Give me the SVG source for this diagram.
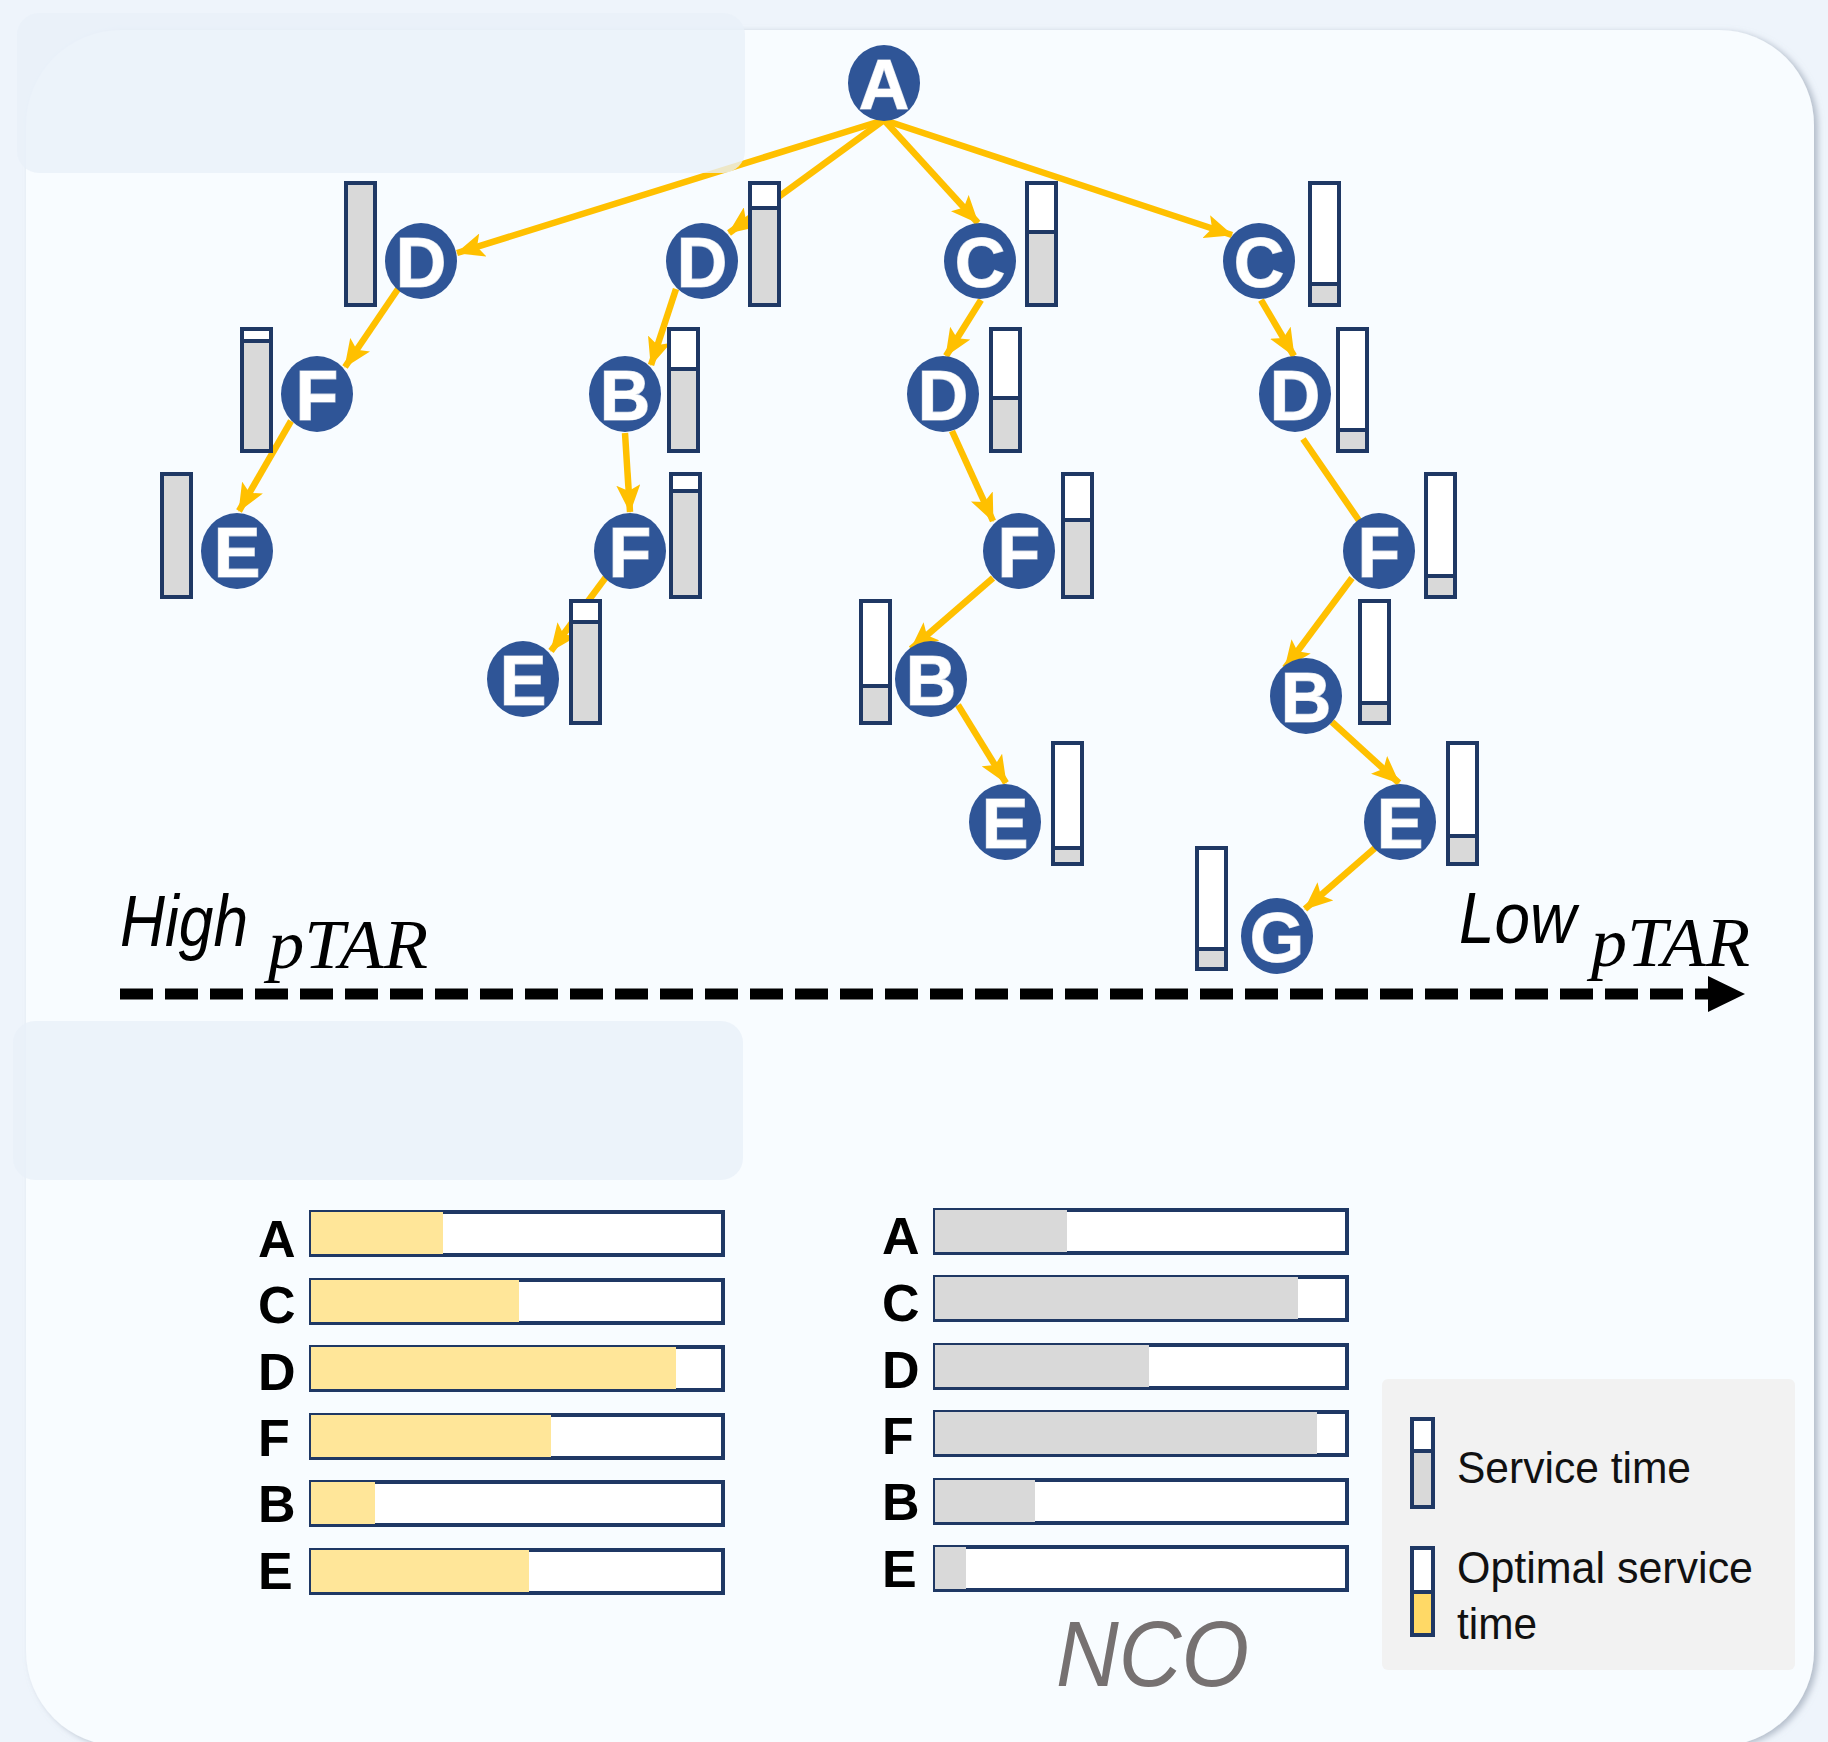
<svg xmlns="http://www.w3.org/2000/svg" width="1828" height="1742" viewBox="0 0 1828 1742">
<defs>
<style>
.nd{fill:#2f5597}
.nt{font-family:"Liberation Sans",Arial,sans-serif;font-weight:bold;font-size:70px;fill:#fff;text-anchor:middle;stroke:#c7d0de;stroke-width:1.2;paint-order:stroke}
.bo{fill:#fff;stroke:#1f3864;stroke-width:4}
.bg{fill:#d9d9d9}
.bd{stroke:#1f3864;stroke-width:4}
.e{stroke:#ffc000;stroke-width:6.5;fill:none}
.ea{marker-end:url(#ah)}
.cl{font-family:"Liberation Sans",Arial,sans-serif;font-weight:bold;font-size:52px;fill:#000}
.cb{fill:#fff;stroke:#1f3864;stroke-width:4}
.it{font-family:"Liberation Sans",Arial,sans-serif;font-style:italic;font-size:72px;fill:#000}
.mt{font-family:"Liberation Serif","Times New Roman",serif;font-style:italic;font-size:70px;fill:#000}
.lg{font-family:"Liberation Sans",Arial,sans-serif;font-size:45px;fill:#111}
.ov{fill:#e8f0f9;opacity:0.8}
</style>
<marker id="ah" markerUnits="userSpaceOnUse" markerWidth="28" markerHeight="24" viewBox="0 0 28 24" refX="27" refY="12" orient="auto">
<path d="M0,0 L28,12 L0,24 L6,12 z" fill="#ffc000"/>
</marker>
<filter id="sh" x="-5%" y="-5%" width="110%" height="110%">
<feDropShadow dx="4" dy="2" stdDeviation="3" flood-color="#8d99aa" flood-opacity="0.6"/>
</filter>
</defs>

<rect x="0" y="0" width="1828" height="1742" fill="#eef4fb"/>
<rect x="26" y="30" width="1788" height="1716" rx="95" ry="95" fill="#f8fcff" filter="url(#sh)"/>

<g id="connectors">
<line class="e ea" x1="884" y1="120" x2="457" y2="253"/>
<line class="e ea" x1="884" y1="120" x2="729" y2="233"/>
<line class="e ea" x1="884" y1="120" x2="978" y2="223"/>
<line class="e ea" x1="884" y1="120" x2="1232" y2="235"/>
<line class="e ea" x1="398" y1="289" x2="345" y2="367"/>
<line class="e ea" x1="291" y1="421" x2="239" y2="511"/>
<line class="e ea" x1="676" y1="289" x2="651" y2="365"/>
<line class="e ea" x1="625" y1="433" x2="630" y2="512"/>
<line class="e ea" x1="606" y1="577" x2="551" y2="651"/>
<line class="e ea" x1="981" y1="300" x2="946" y2="356"/>
<line class="e ea" x1="952" y1="431" x2="993" y2="521"/>
<line class="e ea" x1="1261" y1="300" x2="1294" y2="356"/>
<line class="e" x1="1303" y1="439" x2="1360" y2="522"/>
<line class="e ea" x1="993" y1="578" x2="911" y2="649"/>
<line class="e ea" x1="1352" y1="578" x2="1285" y2="668"/>
<line class="e ea" x1="958" y1="705" x2="1006" y2="783"/>
<line class="e ea" x1="1332" y1="722" x2="1399" y2="783"/>
<line class="e ea" x1="1375" y1="848" x2="1305" y2="909"/>
</g>

<g id="node-A"><ellipse class="nd" cx="884" cy="83" rx="36" ry="38"/><text class="nt" x="884" y="109">A</text></g>

<g id="node-D1"><rect class="bo bg" x="346" y="183" width="29" height="122"/><ellipse class="nd" cx="421" cy="261" rx="36" ry="38"/><text class="nt" x="421" y="287">D</text></g>
<g id="node-D2"><rect class="bo" x="750" y="183" width="29" height="122"/><rect class="bg" x="752" y="208" width="25" height="95"/><line class="bd" x1="750" y1="208" x2="779" y2="208"/><ellipse class="nd" cx="702" cy="261" rx="36" ry="38"/><text class="nt" x="702" y="287">D</text></g>
<g id="node-C1"><rect class="bo" x="1027" y="183" width="29" height="122"/><rect class="bg" x="1029" y="232" width="25" height="71"/><line class="bd" x1="1027" y1="232" x2="1056" y2="232"/><ellipse class="nd" cx="980" cy="261" rx="36" ry="38"/><text class="nt" x="980" y="287">C</text></g>
<g id="node-C2"><rect class="bo" x="1310" y="183" width="29" height="122"/><rect class="bg" x="1312" y="284" width="25" height="19"/><line class="bd" x1="1310" y1="284" x2="1339" y2="284"/><ellipse class="nd" cx="1259" cy="261" rx="36" ry="38"/><text class="nt" x="1259" y="287">C</text></g>

<g id="node-F1"><rect class="bo" x="242" y="329" width="29" height="122"/><rect class="bg" x="244" y="341" width="25" height="108"/><line class="bd" x1="242" y1="341" x2="271" y2="341"/><ellipse class="nd" cx="317" cy="394" rx="36" ry="38"/><text class="nt" x="317" y="420">F</text></g>
<g id="node-B1"><rect class="bo" x="669" y="329" width="29" height="122"/><rect class="bg" x="671" y="369" width="25" height="80"/><line class="bd" x1="669" y1="369" x2="698" y2="369"/><ellipse class="nd" cx="625" cy="394" rx="36" ry="38"/><text class="nt" x="625" y="420">B</text></g>
<g id="node-D3"><rect class="bo" x="991" y="329" width="29" height="122"/><rect class="bg" x="993" y="398" width="25" height="51"/><line class="bd" x1="991" y1="398" x2="1020" y2="398"/><ellipse class="nd" cx="943" cy="394" rx="36" ry="38"/><text class="nt" x="943" y="420">D</text></g>
<g id="node-D4"><rect class="bo" x="1338" y="329" width="29" height="122"/><rect class="bg" x="1340" y="430" width="25" height="19"/><line class="bd" x1="1338" y1="430" x2="1367" y2="430"/><ellipse class="nd" cx="1295" cy="394" rx="36" ry="38"/><text class="nt" x="1295" y="420">D</text></g>

<g id="node-E1"><rect class="bo bg" x="162" y="474" width="29" height="123"/><ellipse class="nd" cx="237" cy="551" rx="36" ry="38"/><text class="nt" x="237" y="577">E</text></g>
<g id="node-F2"><rect class="bo" x="671" y="474" width="29" height="123"/><rect class="bg" x="673" y="491" width="25" height="104"/><line class="bd" x1="671" y1="491" x2="700" y2="491"/><ellipse class="nd" cx="630" cy="551" rx="36" ry="38"/><text class="nt" x="630" y="577">F</text></g>
<g id="node-F3"><rect class="bo" x="1063" y="474" width="29" height="123"/><rect class="bg" x="1065" y="520" width="25" height="75"/><line class="bd" x1="1063" y1="520" x2="1092" y2="520"/><ellipse class="nd" cx="1019" cy="551" rx="36" ry="38"/><text class="nt" x="1019" y="577">F</text></g>
<g id="node-F4"><rect class="bo" x="1426" y="474" width="29" height="123"/><rect class="bg" x="1428" y="576" width="25" height="19"/><line class="bd" x1="1426" y1="576" x2="1455" y2="576"/><ellipse class="nd" cx="1379" cy="551" rx="36" ry="38"/><text class="nt" x="1379" y="577">F</text></g>

<g id="node-E2"><rect class="bo" x="571" y="601" width="29" height="122"/><rect class="bg" x="573" y="622" width="25" height="99"/><line class="bd" x1="571" y1="622" x2="600" y2="622"/><ellipse class="nd" cx="523" cy="679" rx="36" ry="38"/><text class="nt" x="523" y="705">E</text></g>
<g id="node-B2"><rect class="bo" x="861" y="601" width="29" height="122"/><rect class="bg" x="863" y="686" width="25" height="35"/><line class="bd" x1="861" y1="686" x2="890" y2="686"/><ellipse class="nd" cx="931" cy="679" rx="36" ry="38"/><text class="nt" x="931" y="705">B</text></g>
<g id="node-B3"><rect class="bo" x="1360" y="601" width="29" height="122"/><rect class="bg" x="1362" y="703" width="25" height="18"/><line class="bd" x1="1360" y1="703" x2="1389" y2="703"/><ellipse class="nd" cx="1306" cy="696" rx="36" ry="38"/><text class="nt" x="1306" y="722">B</text></g>

<g id="node-E3"><rect class="bo" x="1053" y="743" width="29" height="121"/><rect class="bg" x="1055" y="848" width="25" height="14"/><line class="bd" x1="1053" y1="848" x2="1082" y2="848"/><ellipse class="nd" cx="1005" cy="822" rx="36" ry="38"/><text class="nt" x="1005" y="848">E</text></g>
<g id="node-E4"><rect class="bo" x="1448" y="743" width="29" height="121"/><rect class="bg" x="1450" y="836" width="25" height="26"/><line class="bd" x1="1448" y1="836" x2="1477" y2="836"/><ellipse class="nd" cx="1400" cy="822" rx="36" ry="38"/><text class="nt" x="1400" y="848">E</text></g>
<g id="node-G"><rect class="bo" x="1197" y="848" width="29" height="121"/><rect class="bg" x="1199" y="949" width="25" height="18"/><line class="bd" x1="1197" y1="949" x2="1226" y2="949"/><ellipse class="nd" cx="1277" cy="936" rx="36" ry="38"/><text class="nt" x="1277" y="962">G</text></g>

<g id="axis">
<line x1="120" y1="994" x2="1712" y2="994" stroke="#000" stroke-width="11" stroke-dasharray="33 12"/>
<polygon points="1708,976 1745,994 1708,1012" fill="#000"/>
<text class="it" x="120" y="946" textLength="128" lengthAdjust="spacingAndGlyphs">High</text>
<text class="mt" x="268" y="968" textLength="160" lengthAdjust="spacingAndGlyphs">pTAR</text>
<text class="it" x="1459" y="943" textLength="117" lengthAdjust="spacingAndGlyphs">Low</text>
<text class="mt" x="1591" y="966" textLength="159" lengthAdjust="spacingAndGlyphs">pTAR</text>
</g>

<g id="chart-left">
<rect class="cb" x="311" y="1212" width="412" height="43"/><rect x="311" y="1212" width="132" height="42" fill="#ffe699"/>
<rect class="cb" x="311" y="1280" width="412" height="43"/><rect x="311" y="1280" width="208" height="42" fill="#ffe699"/>
<rect class="cb" x="311" y="1347" width="412" height="43"/><rect x="311" y="1347" width="365" height="42" fill="#ffe699"/>
<rect class="cb" x="311" y="1415" width="412" height="43"/><rect x="311" y="1415" width="240" height="42" fill="#ffe699"/>
<rect class="cb" x="311" y="1482" width="412" height="43"/><rect x="311" y="1482" width="64" height="42" fill="#ffe699"/>
<rect class="cb" x="311" y="1550" width="412" height="43"/><rect x="311" y="1550" width="218" height="42" fill="#ffe699"/>
<text class="cl" x="258" y="1257">A</text>
<text class="cl" x="258" y="1323">C</text>
<text class="cl" x="258" y="1390">D</text>
<text class="cl" x="258" y="1456">F</text>
<text class="cl" x="258" y="1522">B</text>
<text class="cl" x="258" y="1589">E</text>
</g>

<g id="chart-right">
<rect class="cb" x="935" y="1210" width="412" height="43"/><rect x="935" y="1210" width="132" height="42" fill="#d9d9d9"/>
<rect class="cb" x="935" y="1277" width="412" height="43"/><rect x="935" y="1277" width="363" height="42" fill="#d9d9d9"/>
<rect class="cb" x="935" y="1345" width="412" height="43"/><rect x="935" y="1345" width="214" height="42" fill="#d9d9d9"/>
<rect class="cb" x="935" y="1412" width="412" height="43"/><rect x="935" y="1412" width="382" height="42" fill="#d9d9d9"/>
<rect class="cb" x="935" y="1480" width="412" height="43"/><rect x="935" y="1480" width="100" height="42" fill="#d9d9d9"/>
<rect class="cb" x="935" y="1547" width="412" height="43"/><rect x="935" y="1547" width="31" height="42" fill="#d9d9d9"/>
<text class="cl" x="882" y="1254">A</text>
<text class="cl" x="882" y="1321">C</text>
<text class="cl" x="882" y="1388">D</text>
<text class="cl" x="882" y="1454">F</text>
<text class="cl" x="882" y="1520">B</text>
<text class="cl" x="882" y="1587">E</text>
<text x="1056" y="1686" font-family="Liberation Sans, Arial, sans-serif" font-style="italic" font-size="92" fill="#767171" textLength="193" lengthAdjust="spacingAndGlyphs">NCO</text>
</g>

<g id="legend">
<rect x="1382" y="1379" width="413" height="291" rx="6" fill="#f2f2f2"/>
<rect class="bo" x="1412" y="1419" width="21" height="88"/><rect class="bg" x="1414" y="1451" width="17" height="54"/><line class="bd" x1="1412" y1="1451" x2="1433" y2="1451"/>
<rect class="bo" x="1412" y="1548" width="21" height="87"/><rect x="1414" y="1592" width="17" height="41" fill="#ffd966"/><line class="bd" x1="1412" y1="1592" x2="1433" y2="1592"/>
<text class="lg" x="1457" y="1483" textLength="234" lengthAdjust="spacingAndGlyphs">Service time</text>
<text class="lg" x="1457" y="1583" textLength="296" lengthAdjust="spacingAndGlyphs">Optimal service</text>
<text class="lg" x="1457" y="1639" textLength="80" lengthAdjust="spacingAndGlyphs">time</text>
</g>

<rect class="ov" x="17" y="13" width="728" height="160" rx="22"/>
<rect class="ov" x="13" y="1021" width="730" height="159" rx="22"/>
</svg>
